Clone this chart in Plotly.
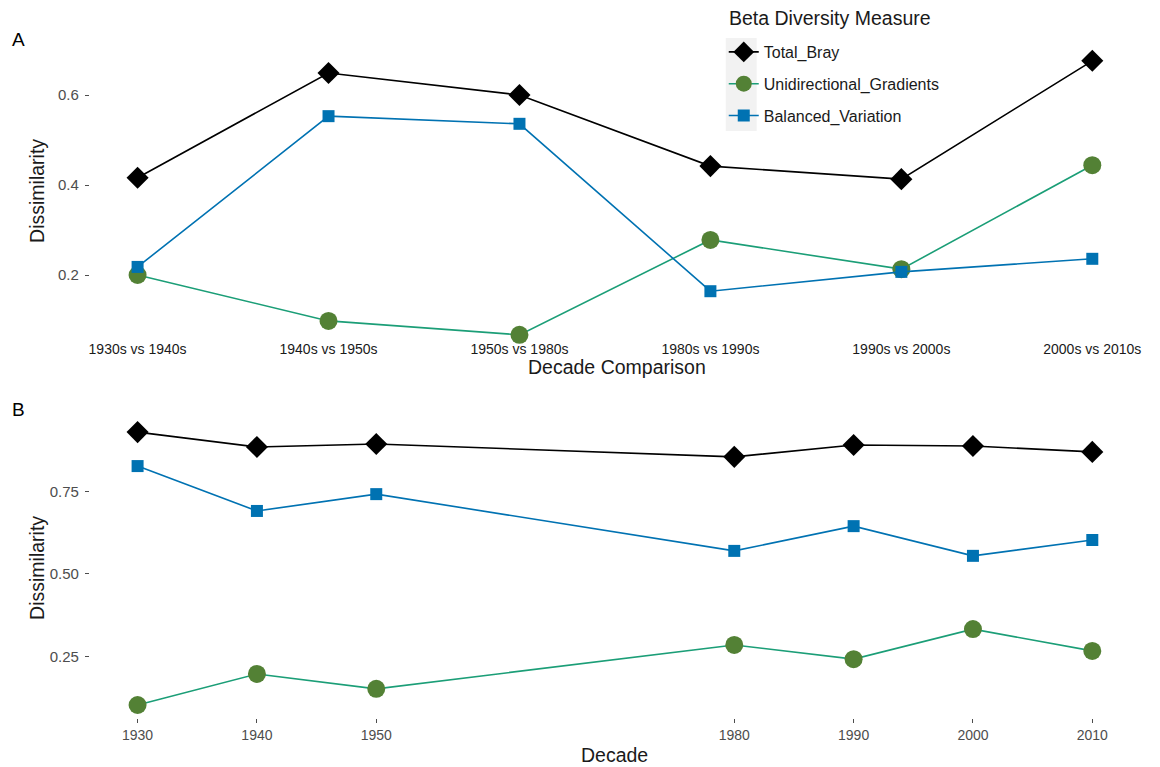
import plotly.graph_objects as go

# ---------------- data ----------------
comparisons = ["1930s vs 1940s", "1940s vs 1950s", "1950s vs 1980s",
               "1980s vs 1990s", "1990s vs 2000s", "2000s vs 2010s"]
a_total_bray = [0.416, 0.649, 0.600, 0.442, 0.413, 0.676]
a_unidirectional = [0.200, 0.098, 0.067, 0.278, 0.213, 0.444]
a_balanced = [0.218, 0.553, 0.536, 0.164, 0.207, 0.236]

decades = [1930, 1940, 1950, 1980, 1990, 2000, 2010]
b_total_bray = [0.930, 0.885, 0.894, 0.855, 0.891, 0.888, 0.870]
b_unidirectional = [0.103, 0.197, 0.152, 0.285, 0.242, 0.333, 0.267]
b_balanced = [0.827, 0.691, 0.742, 0.570, 0.645, 0.555, 0.603]

series_names = ["Total_Bray", "Unidirectional_Gradients", "Balanced_Variation"]

# ---------------- styles ----------------
FONT = "Liberation Sans, Arial, sans-serif"
W, H = 1160, 767
styles = {
    "Total_Bray": dict(line=dict(color="#000000", width=1.6),
                       marker=dict(symbol="diamond", size=17, color="#000000")),
    "Unidirectional_Gradients": dict(line=dict(color="#1B9E77", width=1.6),
                                     marker=dict(symbol="circle", size=18, color="#538135")),
    "Balanced_Variation": dict(line=dict(color="#0072B2", width=1.6),
                               marker=dict(symbol="square", size=12, color="#0072B2")),
}


def fx(s):
    return s / W


def fy(s):
    return 1 - s / H


fig = go.Figure()
a_vals = [a_total_bray, a_unidirectional, a_balanced]
b_vals = [b_total_bray, b_unidirectional, b_balanced]
for name, ys in zip(series_names, a_vals):
    fig.add_trace(go.Scatter(x=comparisons, y=ys, mode="lines+markers", name=name,
                             legendgroup=name, cliponaxis=False,
                             xaxis="x", yaxis="y", **styles[name]))
for name, ys in zip(series_names, b_vals):
    fig.add_trace(go.Scatter(x=decades, y=ys, mode="lines+markers", name=name,
                             legendgroup=name, showlegend=False, cliponaxis=False,
                             xaxis="x2", yaxis="y2", **styles[name]))

xdom = [fx(89), fx(1141)]
tickfont = dict(family=FONT, size=14, color="#4D4D4D")
ytickfont = dict(family=FONT, size=15, color="#4D4D4D")

fig.update_layout(
    width=W, height=H,
    margin=dict(l=0, r=0, t=0, b=0),
    paper_bgcolor="white", plot_bgcolor="white",
    font=dict(family=FONT, color="#000000"),
    xaxis=dict(domain=xdom, type="category", range=[-0.25, 5.25], showgrid=False,
               zeroline=False, showline=False, ticks="",
               tickfont=dict(family=FONT, size=14, color="#1A1A1A"), anchor="y"),
    yaxis=dict(domain=[fy(339), fy(47)], range=[0.0578, 0.7067], showgrid=False,
               zeroline=False, showline=False, ticks="outside", ticklen=4,
               tickcolor="#4D4D4D", tickvals=[0.2, 0.4, 0.6], ticktext=["0.2", "0.4", "0.6"],
               tickfont=ytickfont, ticklabelstandoff=3, anchor="x"),
    xaxis2=dict(domain=xdom, range=[1926, 2014], showgrid=False, zeroline=False,
                showline=False, ticks="outside", ticklen=4, tickcolor="#4D4D4D",
                tickvals=decades, tickfont=tickfont, anchor="y2"),
    yaxis2=dict(domain=[fy(718), fy(418)], range=[0.0636, 0.9727], showgrid=False,
                zeroline=False, showline=False, ticks="outside", ticklen=4,
                tickcolor="#4D4D4D", tickvals=[0.25, 0.50, 0.75],
                ticktext=["0.25", "0.50", "0.75"], tickfont=ytickfont,
                ticklabelstandoff=3, anchor="x2"),
    legend=dict(x=fx(724), y=fy(35), xanchor="left", yanchor="top",
                bgcolor="rgba(0,0,0,0)", font=dict(family=FONT, size=16, color="#1A1A1A"),
                tracegroupgap=8, itemwidth=30),
    showlegend=True,
)

# legend key background (grey)
fig.add_shape(type="rect", xref="paper", yref="paper", x0=fx(726), x1=fx(757),
              y0=fy(131), y1=fy(38), fillcolor="#F2F2F2", line_width=0, layer="below")

fig.add_annotation(xref="paper", yref="paper", x=fx(727), y=fy(18),
                   text="Beta Diversity Measure", showarrow=False,
                   font=dict(family=FONT, size=19.5, color="#1A1A1A"),
                   xanchor="left", yanchor="middle")

for txt, x, y in [("A", 18, 40), ("B", 18, 410)]:
    fig.add_annotation(xref="paper", yref="paper", x=fx(x), y=fy(y), text=txt,
                       showarrow=False, font=dict(family=FONT, size=19, color="#000000"),
                       xanchor="center", yanchor="middle")

for txt, x, y, ang in [("Dissimilarity", 36, 191, -90), ("Dissimilarity", 36, 568, -90),
                       ("Decade Comparison", 617, 367, 0), ("Decade", 615, 755, 0)]:
    fig.add_annotation(xref="paper", yref="paper", x=fx(x), y=fy(y), text=txt,
                       textangle=ang, showarrow=False,
                       font=dict(family=FONT, size=19.5, color="#1A1A1A"),
                       xanchor="center", yanchor="middle")

fig.write_html("out.html", config={"displayModeBar": False},
               post_script="document.body.style.margin='0';")
